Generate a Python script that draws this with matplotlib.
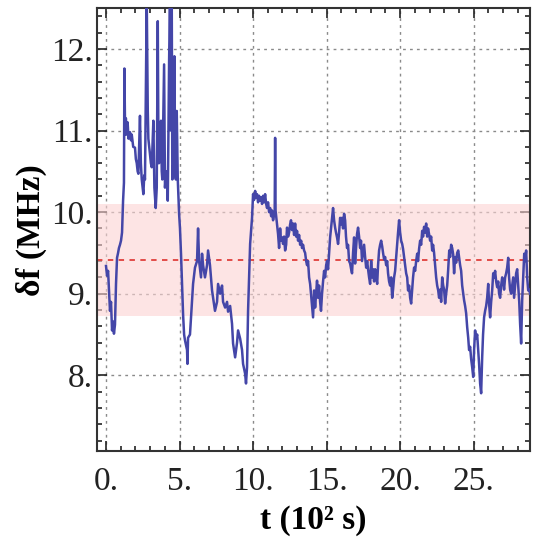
import matplotlib
matplotlib.use("Agg")
import matplotlib.pyplot as plt
from matplotlib.ticker import MultipleLocator, FormatStrFormatter

plt.rcParams['font.family'] = ['Liberation Serif', 'DejaVu Serif']

# frequency shift record, time in units of 100 s
t = [0.00, 0.07, 0.14, 0.20, 0.27, 0.34, 0.41, 0.48, 0.54, 0.61, 0.68, 0.75, 0.82, 0.88, 0.95, 1.02, 1.09, 1.16,
     1.22, 1.25, 1.30, 1.35, 1.41, 1.47, 1.53, 1.63, 1.70, 1.75, 1.85, 1.97, 2.03, 2.09, 2.15, 2.20, 2.31, 2.37,
     2.43, 2.49, 2.54, 2.60, 2.65, 2.77, 2.84, 2.88, 2.94, 2.99, 3.05, 3.11, 3.22, 3.29, 3.34, 3.38, 3.45, 3.52,
     3.57, 3.61, 3.68, 3.74, 3.79, 3.83, 3.95, 4.01, 4.07, 4.13, 4.20, 4.29, 4.35, 4.41, 4.47, 4.51, 4.58, 4.65,
     4.69, 4.75, 4.81, 4.88, 4.97, 5.03, 5.10, 5.17, 5.24, 5.31,
     5.37, 5.51, 5.54, 5.58, 5.71, 5.85, 5.92, 6.05, 6.19, 6.26, 6.33, 6.46, 6.53, 6.60, 6.73, 6.87, 6.94, 7.07,
     7.21, 7.28, 7.41, 7.55, 7.62, 7.76, 7.89, 7.96, 8.10, 8.23, 8.30, 8.44, 8.57, 8.64, 8.78, 8.91, 8.98, 9.12,
     9.25, 9.32, 9.46, 9.52, 9.59, 9.66, 9.80, 9.93, 10.00,
     10.07, 10.14, 10.21, 10.27, 10.34, 10.41, 10.48, 10.55, 10.61, 10.68, 10.75, 10.82, 10.89, 10.95, 11.02,
     11.09, 11.16, 11.23, 11.29, 11.36, 11.47, 11.50, 11.53, 11.60, 11.70, 11.77, 11.84, 11.90, 11.97, 12.04,
     12.11, 12.18, 12.25, 12.31, 12.38, 12.45, 12.52, 12.58, 12.65, 12.72, 12.79, 12.86, 12.93, 12.99, 13.06,
     13.13, 13.20, 13.27, 13.33, 13.40, 13.47, 13.54, 13.61, 13.67, 13.74, 13.81, 13.88, 13.94, 14.01, 14.08,
     14.15, 14.22, 14.29, 14.35, 14.42, 14.49, 14.56, 14.62, 14.69, 14.76, 14.83, 14.90, 14.97, 15.03, 15.10,
     15.17, 15.24, 15.30, 15.37, 15.44, 15.51, 15.58, 15.64, 15.71, 15.78, 15.85, 15.92, 15.99, 16.05, 16.12,
     16.19, 16.26, 16.32, 16.39, 16.46, 16.53, 16.60, 16.67, 16.73,
     16.80, 16.87, 16.94, 17.00, 17.07, 17.14, 17.21, 17.28, 17.34, 17.41, 17.48, 17.55, 17.62, 17.69, 17.76,
     17.82, 17.89, 17.96, 18.03, 18.10, 18.16, 18.23, 18.30, 18.37, 18.44, 18.50, 18.57, 18.64, 18.71, 18.78,
     18.84, 18.91, 18.98, 19.05, 19.12, 19.18, 19.25, 19.32, 19.39, 19.46, 19.52, 19.59, 19.66, 19.73, 19.80,
     19.86, 19.93, 20.00, 20.07, 20.14, 20.20, 20.27, 20.34, 20.41, 20.48, 20.54, 20.61, 20.68, 20.75, 20.82,
     20.88, 20.95, 21.02, 21.09, 21.16, 21.22, 21.29, 21.36, 21.43, 21.50, 21.56, 21.63, 21.70, 21.77, 21.84,
     21.90, 21.97, 22.04, 22.11, 22.18, 22.24, 22.31, 22.38, 22.45, 22.52, 22.59,
     22.65, 22.72, 22.79, 22.86, 22.93, 22.99, 23.06, 23.13, 23.20, 23.27, 23.34, 23.40, 23.47, 23.54, 23.61,
     23.67, 23.74, 23.81, 23.88, 23.95, 24.01, 24.08, 24.15, 24.22, 24.29, 24.35, 24.42, 24.49, 24.56, 24.63,
     24.69, 24.76, 24.83, 24.90, 24.97, 25.03, 25.10, 25.17, 25.24, 25.31, 25.37, 25.44, 25.51, 25.58, 25.64,
     25.71, 25.78, 25.85, 25.92, 25.99, 26.05, 26.12, 26.19, 26.26, 26.33, 26.39, 26.46, 26.53, 26.60, 26.67,
     26.73, 26.80, 26.87, 26.94, 27.01, 27.07, 27.14, 27.21, 27.28, 27.35, 27.41, 27.48, 27.55, 27.62, 27.69,
     27.75, 27.82, 27.89, 27.96, 28.03, 28.10, 28.16, 28.23, 28.30, 28.37, 28.44, 28.50, 28.57, 28.64, 28.71,
     28.78, 28.84]

df = [9.34, 9.22, 9.28, 9.05, 8.79, 8.90, 8.55, 8.66, 8.51, 8.62, 9.12, 9.44, 9.50, 9.56, 9.60, 9.65, 9.75, 10.14,
      10.36, 11.76, 10.95, 11.15, 10.95, 11.10, 10.90, 10.98, 10.88, 10.95, 10.80, 10.79, 10.65, 10.60, 10.50,
      10.47, 11.18, 10.60, 10.40, 10.30, 10.22, 10.45, 10.40, 12.60, 11.24, 10.90, 10.80, 10.71, 10.60, 10.55,
      11.12, 10.30, 10.15, 10.05, 10.30, 12.34, 10.60, 10.60, 10.90, 11.12, 10.50, 10.40, 11.81, 10.30, 10.45,
      10.50, 10.14, 11.85, 12.60, 11.00, 12.60, 10.40, 10.60, 11.91, 10.50, 10.40, 11.24, 10.40, 9.98, 9.80,
      9.49, 9.12, 8.75, 8.50,
      8.43, 8.31, 8.14, 8.46, 8.50, 8.92, 9.12, 9.32, 9.40, 9.80, 9.40, 9.20, 9.49, 9.35, 9.20, 9.35, 9.53, 9.35,
      9.04, 8.95, 8.79, 8.90, 9.12, 9.00, 9.10, 8.90, 8.83, 8.90, 8.78, 8.85, 8.63, 8.39, 8.22, 8.40, 8.55, 8.45,
      8.31, 8.14, 8.02, 7.90, 8.10, 8.79, 9.61, 9.93, 10.22,
      10.15, 10.26, 10.18, 10.22, 10.12, 10.20, 10.14, 10.18, 10.10, 10.20, 10.12, 10.22, 10.10, 10.05, 10.12,
      10.00, 10.05, 9.95, 10.02, 9.90, 10.00, 10.91, 10.02, 9.90, 9.73, 9.56, 9.80, 9.65, 9.69, 9.61,
      9.70, 9.53, 9.60, 9.81, 9.70, 9.75, 9.85, 9.90, 9.78, 9.86, 9.72, 9.86, 9.70, 9.77, 9.65,
      9.72, 9.60, 9.65, 9.56, 9.60, 9.53, 9.50, 9.40, 9.35, 9.40, 9.20, 9.12, 9.00, 8.85, 8.71,
      9.04, 8.83, 9.00, 9.16, 8.95, 9.10, 8.90, 8.79, 9.00, 9.15, 9.28, 9.20, 9.35, 9.40, 9.30,
      9.50, 9.69, 9.80, 9.93, 10.05, 9.90, 9.81, 9.75, 9.69, 9.61, 9.75, 9.93, 9.85, 9.93, 9.80,
      9.98, 9.90, 9.70, 9.56, 9.60, 9.40, 9.37, 9.30, 9.25,
      9.50, 9.69, 9.37, 9.55, 9.73, 9.81, 9.70, 9.56, 9.65, 9.40, 9.50, 9.60, 9.45, 9.32, 9.40,
      9.30, 9.20, 9.12, 9.40, 9.20, 9.30, 9.15, 9.30, 9.20, 9.12, 9.35, 9.53, 9.60, 9.65, 9.58,
      9.50, 9.42, 9.45, 9.35, 9.40, 9.25, 9.15, 9.10, 9.20, 8.95, 9.05, 9.20, 9.28, 9.45, 9.61,
      9.75, 9.90, 9.75, 9.65, 9.61, 9.55, 9.45, 9.35, 9.25, 9.20, 9.04, 9.10, 8.95, 8.88, 9.05,
      9.20, 9.32, 9.28, 9.40, 9.49, 9.40, 9.55, 9.65, 9.60, 9.77, 9.70, 9.82, 9.75, 9.86, 9.70,
      9.80, 9.73, 9.65, 9.70, 9.53, 9.60, 9.50, 9.35, 9.20, 9.10, 9.04,
      8.95, 9.05, 8.90, 9.20, 9.10, 9.05, 8.88, 9.00, 9.10, 9.30, 9.53, 9.45, 9.60, 9.56, 9.48,
      9.25, 9.45, 9.38, 9.50, 9.53, 9.45, 9.35, 9.28, 9.10, 9.00, 8.92, 8.85, 8.76, 8.59, 8.46,
      8.31, 8.35, 8.20, 8.10, 7.98, 8.31, 8.55, 8.45, 8.50, 8.31, 8.14, 7.90, 7.78, 8.22, 8.50,
      8.71, 8.79, 8.85, 8.95, 9.12, 8.88, 8.71, 8.90, 9.04, 9.25, 9.20, 9.28, 9.15, 9.08, 9.15,
      9.00, 8.95, 9.10, 9.20, 9.15, 9.05, 9.20, 9.25, 9.32, 9.44, 9.20, 9.05, 9.00, 9.10, 9.20,
      8.95, 9.10, 9.25, 9.30, 9.10, 8.90, 8.63, 8.39, 8.92, 9.20, 9.49, 9.40, 9.53, 9.20, 9.04,
      9.05, 9.00]

band_low, band_high = 8.73, 10.1
mean_level = 9.41

fig = plt.figure(figsize=(5.34, 5.41), dpi=100)
ax = fig.add_axes([0.182, 0.166, 0.811, 0.819])

ax.axhspan(band_low, band_high, color='#fcd3d3', alpha=0.6, lw=0, zorder=1)
ax.axhline(mean_level, color='#e0403c', lw=1.3, ls=(0, (3, 3)), zorder=2)
ax.plot(t, df, color='#4446a8', lw=1.8, zorder=3)

ax.set_xlim(-0.6, 28.85)
ax.set_ylim(7.07, 12.5)

ax.xaxis.set_major_locator(MultipleLocator(5))
ax.xaxis.set_minor_locator(MultipleLocator(1))
ax.yaxis.set_major_locator(MultipleLocator(1))
ax.yaxis.set_minor_locator(MultipleLocator(0.2))
ax.xaxis.set_major_formatter(FormatStrFormatter('%d.'))
ax.yaxis.set_major_formatter(FormatStrFormatter('%d.'))

ax.set_axisbelow(True)
ax.grid(True, which='major', color='#8a8a8a', lw=1.0, ls=(0, (2, 3)))

ax.tick_params(which='both', direction='in', top=True, right=True, width=1.2, colors='#222222')
ax.tick_params(axis='x', which='major', pad=11)
ax.tick_params(which='major', length=7, labelsize=24)
ax.tick_params(axis='y', which='major', pad=3)
ax.tick_params(which='minor', length=3.5)
for s in ax.spines.values():
    s.set_linewidth(1.5)
    s.set_color('#333333')

ax.set_xlabel('t (10² s)', fontsize=24, fontweight='bold', labelpad=6)
ax.set_ylabel('δf (MHz)', fontsize=24, fontweight='bold', labelpad=3)

plt.savefig('out.png', dpi=100)
